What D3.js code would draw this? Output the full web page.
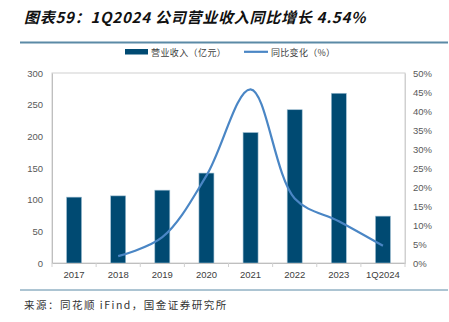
<!DOCTYPE html>
<html><head><meta charset="utf-8">
<script src="https://cdn.jsdelivr.net/npm/d3@7"></script>
<style>body{margin:0;background:#fff}svg{display:block}</style>
</head><body>
<svg id="c" width="449" height="322"></svg>
<script>
const categories = ["2017","2018","2019","2020","2021","2022","2023","1Q2024"];
const revenue = [104, 106, 115, 142, 206, 242, 268, 74];
const yoy = [null, 1.8, 6.8, 23, 45.7, 17, 11, 4.54];
const leftTicks = [0,50,100,150,200,250,300];
const rightTicks = [0,5,10,15,20,25,30,35,40,45,50];
const title = "图表59：1Q2024 公司营业收入同比增长 4.54%";
const source = "来源：同花顺 iFind，国金证券研究所";
const legendBar = "营业收入（亿元）";
const legendLine = "同比变化（%）";

const svg = d3.select("#c");
const L = 52, R = 405, T = 73, B = 263;
const x = d3.scaleBand().domain(categories).range([L, R]).paddingInner(0.66).paddingOuter(0.33);
const y = d3.scaleLinear().domain([0, 300]).range([B, T]);
const y2 = d3.scaleLinear().domain([0, 50]).range([B, T]);
const cjk = "'Noto Sans CJK SC', sans-serif";
const lat = "'Liberation Sans', Arial, sans-serif";

// title
svg.append("text").attr("x", 24).attr("y", 23).text(title)
  .attr("font-family", cjk).attr("font-size", 15).attr("font-weight", "bold")
  .attr("font-style", "italic").attr("fill", "#111").attr("letter-spacing", 0.75);
svg.append("line").attr("x1", 20).attr("x2", 448).attr("y1", 42.5).attr("y2", 42.5)
  .attr("stroke", "#5b8aa6").attr("stroke-width", 2);

// plot frame
svg.append("rect").attr("x", L).attr("y", T).attr("width", R - L).attr("height", B - T)
  .attr("fill", "none").attr("stroke", "#d0d0d0").attr("stroke-width", 1);

// bars
svg.append("g").selectAll("rect").data(revenue).join("rect")
  .attr("x", (d, i) => x(categories[i])).attr("width", x.bandwidth())
  .attr("y", d => y(d)).attr("height", d => B - y(d))
  .attr("fill", "#004a72").attr("stroke", "#9fbfd2").attr("stroke-width", 0.6);

// left axis
const gl = svg.append("g").attr("transform", `translate(${L},0)`)
  .call(d3.axisLeft(y).tickValues(leftTicks).tickSize(0).tickPadding(9));
gl.select(".domain").attr("stroke", "#bfbfbf");
gl.selectAll("text").attr("font-family", lat).attr("font-size", 9.5).attr("fill", "#595959");

// right axis
const gr = svg.append("g").attr("transform", `translate(${R},0)`)
  .call(d3.axisRight(y2).tickValues(rightTicks).tickFormat(d => d + "%").tickSize(0).tickPadding(8));
gr.select(".domain").attr("stroke", "#d0d0d0");
gr.selectAll("text").attr("font-family", lat).attr("font-size", 9.5).attr("fill", "#595959");

// bottom axis
const gb = svg.append("g").attr("transform", `translate(0,${B})`)
  .call(d3.axisBottom(x).tickSize(0).tickPadding(8));
gb.select(".domain").attr("stroke", "#bfbfbf");
gb.selectAll("text").attr("font-family", lat).attr("font-size", 9.5).attr("fill", "#404040");
gb.selectAll(".sep").data(d3.range(categories.length + 1)).join("line")
  .attr("x1", i => L + i * (R - L) / categories.length)
  .attr("x2", i => L + i * (R - L) / categories.length)
  .attr("y1", 0).attr("y2", 4).attr("stroke", "#d0d0d0");

// line
const pts = yoy.map((v, i) => v == null ? null : [x(categories[i]) + x.bandwidth() / 2, y2(v)]).filter(p => p);
svg.append("path").attr("d", d3.line().curve(d3.curveCatmullRom.alpha(0.5))(pts))
  .attr("fill", "none").attr("stroke", "#4a86c5").attr("stroke-width", 2.2);

// legend
svg.append("rect").attr("x", 125).attr("y", 49).attr("width", 23).attr("height", 5.5).attr("fill", "#004a72");
svg.append("text").attr("x", 151).attr("y", 55.5).text(legendBar)
  .attr("font-family", cjk).attr("font-size", 9).attr("fill", "#404040").attr("letter-spacing", 0.4);
svg.append("line").attr("x1", 244).attr("x2", 268).attr("y1", 51.8).attr("y2", 51.8)
  .attr("stroke", "#4a86c5").attr("stroke-width", 2.2);
svg.append("text").attr("x", 271).attr("y", 55.5).text(legendLine)
  .attr("font-family", cjk).attr("font-size", 9).attr("fill", "#404040").attr("letter-spacing", 0.3);

// source
svg.append("line").attr("x1", 20).attr("x2", 448).attr("y1", 290).attr("y2", 290)
  .attr("stroke", "#5b8aa6").attr("stroke-width", 1);
svg.append("text").attr("x", 24).attr("y", 309).text(source)
  .attr("font-family", cjk).attr("font-size", 10.5).attr("fill", "#333").attr("letter-spacing", 1.5);
</script>
</body></html>
